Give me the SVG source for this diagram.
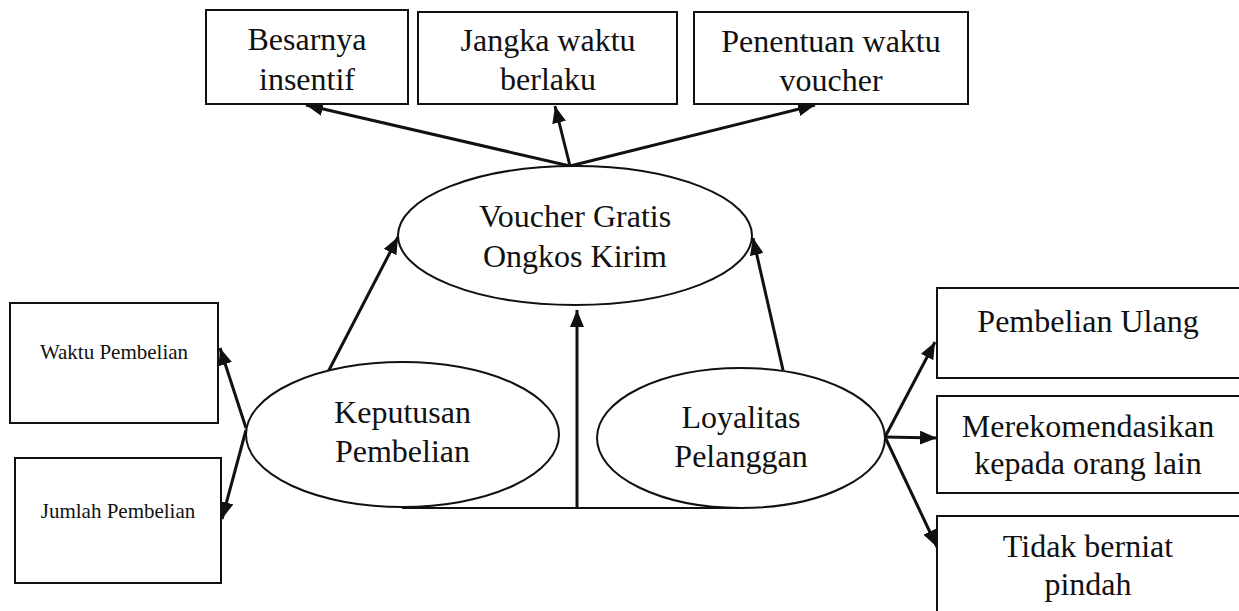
<svg xmlns="http://www.w3.org/2000/svg" width="1239" height="611" viewBox="0 0 1239 611">
<style>
.box{fill:#fff;stroke:#111;stroke-width:2}
.ell{fill:#fff;stroke:#111;stroke-width:2}
.t{font-family:"Liberation Serif","Times New Roman",serif;font-size:32px;fill:#111;text-anchor:middle}
.s{font-family:"Liberation Serif","Times New Roman",serif;font-size:21px;fill:#111;text-anchor:middle}
.arr{stroke:#111;stroke-width:3;fill:none;marker-end:url(#ah)}
.ln{stroke:#111;stroke-width:2;fill:none}
</style>
<defs>
<marker id="ah" markerUnits="userSpaceOnUse" markerWidth="18" markerHeight="14" refX="17" refY="7" orient="auto">
<path d="M0,0 L17,7 L0,14 z" fill="#111"/>
</marker>
</defs>
<rect width="1239" height="611" fill="#fff"/>
<g id="connectors">
<line class="arr" x1="570" y1="166" x2="306" y2="105"/>
<line class="arr" x1="570" y1="166" x2="555" y2="106"/>
<line class="arr" x1="570" y1="166" x2="815" y2="105"/>
<line class="arr" x1="328" y1="372" x2="398" y2="237"/>
<line class="arr" x1="783" y1="370" x2="753" y2="238"/>
<line class="arr" x1="577" y1="508" x2="577" y2="310"/>
<line class="arr" x1="246" y1="428" x2="220" y2="348"/>
<line class="arr" x1="246" y1="430" x2="222" y2="519"/>
<line class="arr" x1="885" y1="437" x2="935" y2="342"/>
<line class="arr" x1="885" y1="437" x2="937" y2="438"/>
<line class="arr" x1="885" y1="437" x2="937" y2="547"/>
<line class="ln" x1="402" y1="508" x2="740" y2="508"/>
</g>
<g id="besarnya">
<rect class="box" x="206" y="10" width="202" height="94"/>
<text class="t" x="307" y="50">Besarnya</text>
<text class="t" x="307" y="90">insentif</text>
</g>
<g id="jangka">
<rect class="box" x="418" y="12" width="259" height="92"/>
<text class="t" x="548" y="51">Jangka waktu</text>
<text class="t" x="548" y="90">berlaku</text>
</g>
<g id="penentuan">
<rect class="box" x="694" y="12" width="274" height="92"/>
<text class="t" x="831" y="52">Penentuan waktu</text>
<text class="t" x="831" y="91">voucher</text>
</g>
<g id="voucher">
<ellipse class="ell" cx="575" cy="235.5" rx="177" ry="69.5"/>
<text class="t" x="575" y="227">Voucher Gratis</text>
<text class="t" x="575" y="267">Ongkos Kirim</text>
</g>
<g id="keputusan">
<ellipse class="ell" cx="402.5" cy="434.5" rx="156.5" ry="72.5"/>
<text class="t" x="402.5" y="423">Keputusan</text>
<text class="t" x="402.5" y="462">Pembelian</text>
</g>
<g id="loyalitas">
<ellipse class="ell" cx="741" cy="438" rx="144" ry="70"/>
<text class="t" x="741" y="428">Loyalitas</text>
<text class="t" x="741" y="467">Pelanggan</text>
</g>
<g id="waktu">
<rect class="box" x="10" y="303" width="208" height="120"/>
<text class="s" x="114" y="359">Waktu Pembelian</text>
</g>
<g id="jumlah">
<rect class="box" x="15" y="458" width="206" height="125"/>
<text class="s" x="118" y="518">Jumlah Pembelian</text>
</g>
<g id="ulang">
<rect class="box" x="937" y="288" width="303" height="90"/>
<text class="t" x="1088" y="332">Pembelian Ulang</text>
</g>
<g id="merekomendasikan">
<rect class="box" x="937" y="396" width="303" height="97"/>
<text class="t" x="1088" y="437">Merekomendasikan</text>
<text class="t" x="1088" y="474">kepada orang lain</text>
</g>
<g id="tidak">
<rect class="box" x="937" y="516" width="303" height="110"/>
<text class="t" x="1088" y="557">Tidak berniat</text>
<text class="t" x="1088" y="595">pindah</text>
</g>
</svg>
